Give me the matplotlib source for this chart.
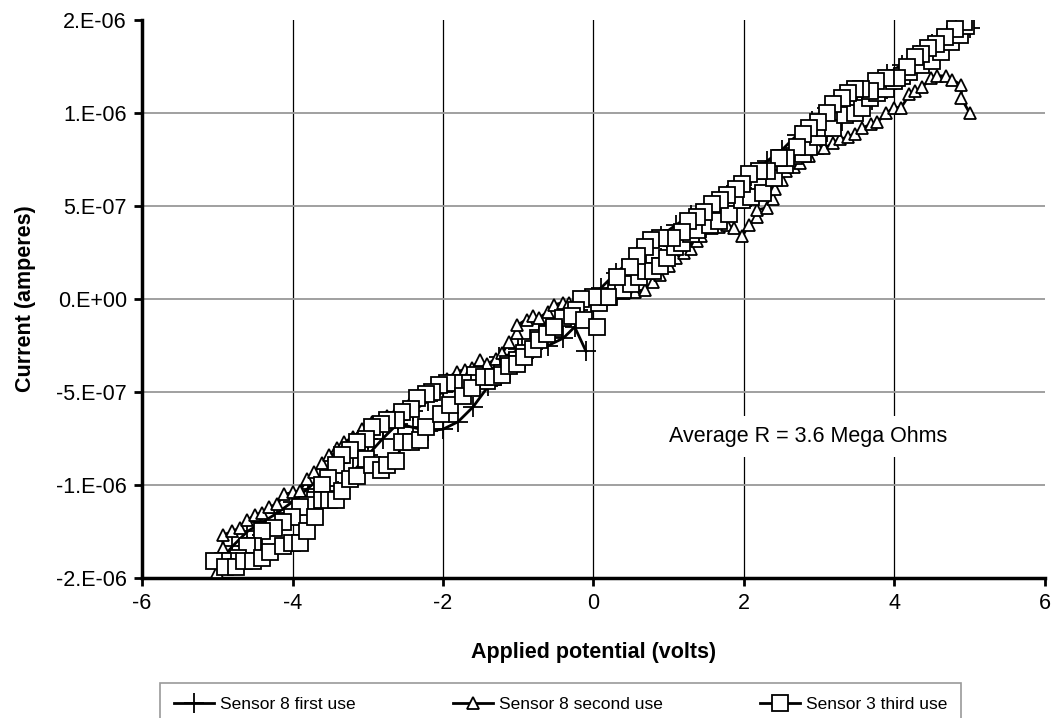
import numpy as np
import matplotlib.pyplot as plt
from matplotlib.ticker import FixedLocator, FixedFormatter

plt.rcParams['font.family'] = ['Liberation Sans', 'DejaVu Sans']
plt.rcParams['axes.unicode_minus'] = False

# Sensor 8 first use: 0 -> 5 -> -5 -> 0 (volts, microamps)
s8a_v = [0.1, 0.3, 0.5, 0.7, 0.9, 1.1, 1.3, 1.5, 1.7, 1.9, 2.1, 2.3, 2.5, 2.7, 2.9, 3.1, 3.3, 3.5, 3.7, 3.9,
         4.1, 4.3, 4.5, 4.7, 4.9, 5.0,
         4.9, 4.7, 4.5, 4.3, 4.1, 3.9, 3.7, 3.5, 3.3, 3.1, 2.9, 2.7, 2.5, 2.3, 2.1, 1.9, 1.7, 1.5, 1.3, 1.1,
         0.9, 0.7, 0.5, 0.3, 0.1,
         -0.2, -0.4, -0.6, -0.8, -1.0, -1.2, -1.4, -1.6, -1.8, -2.0, -2.2, -2.4, -2.6, -2.8, -3.0, -3.2, -3.4,
         -3.6, -3.8, -4.0, -4.2, -4.4, -4.6, -4.8, -5.0,
         -4.8, -4.6, -4.4, -4.2, -4.0, -3.8, -3.6, -3.4, -3.2, -3.0, -2.8, -2.6, -2.4, -2.2, -2.0, -1.8, -1.6,
         -1.4, -1.25, -1.0, -0.8, -0.6, -0.4, -0.25, -0.1]
s8a_i = [0.0, 0.06, 0.12, 0.17, 0.22, 0.28, 0.33, 0.38, 0.43, 0.49, 0.55, 0.60, 0.66, 0.74, 0.82, 0.90, 0.96,
         1.02, 1.07, 1.13, 1.22, 1.29, 1.35, 1.41, 1.45, 1.46,
         1.46, 1.42, 1.37, 1.31, 1.26, 1.21, 1.16, 1.12, 1.08, 1.03, 0.96, 0.88, 0.80, 0.74, 0.66, 0.61, 0.55,
         0.50, 0.45, 0.40, 0.34, 0.28, 0.21, 0.14, 0.06,
         -0.06, -0.10, -0.16, -0.22, -0.27, -0.33, -0.39, -0.43, -0.46, -0.50, -0.55, -0.60, -0.65, -0.69,
         -0.75, -0.82, -0.88, -0.95, -1.02, -1.09, -1.15, -1.20, -1.25, -1.33, -1.43,
         -1.38, -1.33, -1.27, -1.21, -1.16, -1.11, -1.07, -1.03, -0.93, -0.84, -0.75, -0.67, -0.69, -0.71,
         -0.70, -0.66, -0.58, -0.47, -0.31, -0.29, -0.27, -0.25, -0.21, -0.15, -0.28]

# Sensor 8 second use: -5 -> 5
s8b_v = [-5.0, -4.92, -4.93, -4.8, -4.7, -4.6, -4.5, -4.41, -4.31, -4.2, -4.11, -4.0, -3.9, -3.81, -3.71,
         -3.61, -3.51, -3.41, -3.31, -3.19, -3.07, -2.94, -2.75, -2.62, -2.42, -2.3, -2.15, -2.05, -1.95,
         -1.82, -1.71, -1.62, -1.51, -1.41, -1.29, -1.21, -1.12, -1.02, -1.01, -0.89, -0.81, -0.72, -0.61,
         -0.52, -0.41, -0.32, -0.2, -0.05, 0.1, 0.25, 0.4, 0.55, 0.68, 0.79, 0.88, 1.01, 1.1, 1.2, 1.3,
         1.38, 1.43, 1.57, 1.67, 1.77, 1.87, 1.98, 2.07, 2.18, 2.18, 2.3, 2.38, 2.41, 2.5, 2.56, 2.67, 2.74,
         2.87, 2.98, 3.07, 3.18, 3.28, 3.38, 3.47, 3.57, 3.69, 3.77, 3.89, 4.0, 4.09, 4.2, 4.27, 4.37, 4.49,
         4.57, 4.69, 4.77, 4.89, 4.89, 5.0]
s8b_i = [-1.47, -1.34, -1.27, -1.25, -1.23, -1.19, -1.16, -1.15, -1.12, -1.10, -1.05, -1.04, -1.03, -0.97,
         -0.93, -0.88, -0.84, -0.80, -0.77, -0.74, -0.70, -0.66, -0.63, -0.61, -0.55, -0.52, -0.49, -0.45,
         -0.43, -0.39, -0.38, -0.37, -0.33, -0.35, -0.32, -0.29, -0.23, -0.18, -0.14, -0.11, -0.09, -0.10,
         -0.07, -0.03, -0.02, -0.02, -0.01, 0.0, 0.02, 0.03, 0.03, 0.04, 0.05, 0.09, 0.13, 0.18, 0.22, 0.25,
         0.27, 0.31, 0.34, 0.38, 0.39, 0.40, 0.38, 0.34, 0.40, 0.44, 0.48, 0.49, 0.54, 0.59, 0.64, 0.69,
         0.71, 0.73, 0.77, 0.81, 0.81, 0.84, 0.86, 0.87, 0.89, 0.92, 0.94, 0.95, 1.00, 1.03, 1.03, 1.10,
         1.12, 1.14, 1.19, 1.20, 1.20, 1.18, 1.15, 1.08, 1.00]

# Sensor 3 third use: 0 -> 5 -> -5 -> 0
s3_v = [0.08, 0.2, 0.3, 0.39, 0.5, 0.6, 0.7, 0.79, 0.88, 0.98, 1.08, 1.18, 1.3, 1.38, 1.55, 1.67, 1.8,
        1.98, 2.1, 2.25, 2.4, 2.55, 2.67, 2.78, 2.87, 2.98, 3.07, 3.18, 3.34, 3.47, 3.57, 3.67, 3.77, 3.89,
        4.0, 4.1, 4.2, 4.35, 4.5, 4.62, 4.75, 4.87, 4.95,
        4.92, 4.8, 4.67, 4.55, 4.45, 4.35, 4.27, 4.17, 4.04, 3.89, 3.76, 3.67, 3.56, 3.47, 3.38, 3.3, 3.18,
        3.1, 2.98, 2.87, 2.78, 2.7, 2.56, 2.47, 2.31, 2.2, 2.07, 1.98, 1.9, 1.78, 1.68, 1.58, 1.47, 1.37,
        1.25, 1.17, 1.04, 0.88, 0.77, 0.68, 0.58, 0.48, 0.31, 0.19, 0.0,
        -0.16, -0.23, -0.41, -0.52, -0.62, -0.74, -0.85, -0.92, -1.02, -1.14, -1.21, -1.34, -1.42, -1.58,
        -1.62, -1.74, -1.85, -1.95, -2.05, -2.15, -2.22, -2.34, -2.42, -2.54, -2.62, -2.74, -2.82, -2.94,
        -3.02, -3.14, -3.24, -3.34, -3.42, -3.53, -3.61, -3.7, -3.81, -3.9, -4.01, -4.13, -4.24, -4.41,
        -4.53, -4.61, -4.73, -4.84, -4.93, -5.04,
        -4.9, -4.75, -4.64, -4.53, -4.41, -4.3, -4.13, -4.01, -3.9, -3.81, -3.7, -3.61, -3.51, -3.42, -3.34,
        -3.24, -3.14, -3.02, -2.94, -2.82, -2.74, -2.62, -2.54, -2.42, -2.31, -2.22, -2.02, -1.91, -1.74,
        -1.61, -1.45, -1.34, -1.22, -1.12, -1.02, -0.92, -0.81, -0.72, -0.62, -0.52, -0.28, -0.12, 0.05]
s3_i = [-0.02, 0.01, 0.05, 0.05, 0.08, 0.12, 0.15, 0.15, 0.18, 0.22, 0.28, 0.30, 0.35, 0.37, 0.40, 0.42,
        0.46, 0.53, 0.55, 0.57, 0.65, 0.72, 0.77, 0.78, 0.82, 0.87, 0.92, 0.92, 0.99, 1.00, 1.03, 1.08, 1.11,
        1.13, 1.17, 1.20, 1.22, 1.26, 1.28, 1.33, 1.38, 1.42, 1.47,
        1.49, 1.45, 1.41, 1.37, 1.35, 1.32, 1.30, 1.25, 1.19, 1.19, 1.17, 1.12, 1.13, 1.13, 1.11, 1.08,
        1.05, 1.00, 0.95, 0.92, 0.89, 0.82, 0.76, 0.76, 0.69, 0.69, 0.67, 0.62, 0.59, 0.56, 0.53, 0.51,
        0.47, 0.44, 0.42, 0.36, 0.33, 0.33, 0.32, 0.28, 0.23, 0.17, 0.12, 0.01, 0.01,
        0.0, -0.06, -0.10, -0.16, -0.18, -0.21, -0.26, -0.29, -0.33, -0.35, -0.40, -0.42, -0.44, -0.41,
        -0.45, -0.45, -0.45, -0.45, -0.46, -0.50, -0.51, -0.53, -0.59, -0.61, -0.65, -0.65, -0.67, -0.69,
        -0.75, -0.77, -0.81, -0.84, -0.89, -0.96, -1.00, -1.08, -1.11, -1.12, -1.17, -1.20, -1.23, -1.25,
        -1.33, -1.33, -1.39, -1.41, -1.41, -1.41,
        -1.44, -1.44, -1.41, -1.41, -1.39, -1.36, -1.33, -1.31, -1.31, -1.25, -1.17, -1.08, -1.08, -1.08,
        -1.03, -0.97, -0.95, -0.86, -0.89, -0.92, -0.89, -0.87, -0.77, -0.77, -0.76, -0.69, -0.62, -0.57,
        -0.52, -0.48, -0.42, -0.42, -0.41, -0.36, -0.35, -0.31, -0.27, -0.22, -0.19, -0.15, -0.09, -0.11,
        -0.15]

y_ticks = [-1.5e-6, -1.0e-6, -5e-7, 0.0, 5e-7, 1.0e-6, 1.5e-6]
y_labels = ["-2.E-06", "-1.E-06", "-5.E-07", "0.E+00", "5.E-07", "1.E-06", "2.E-06"]
x_ticks = [-6, -4, -2, 0, 2, 4, 6]

fig = plt.figure(figsize=(10.56, 7.18), dpi=100)
ax = fig.add_axes([0.1345, 0.195, 0.855, 0.777])

ax.plot(s8a_v, np.array(s8a_i) * 1e-6, color='black', lw=2, marker='+', ms=14, mew=1.3,
        label='Sensor 8 first use', zorder=3)
ax.plot(s8b_v, np.array(s8b_i) * 1e-6, color='black', lw=2, marker='^', ms=9, mfc='white', mec='black',
        mew=1.3, label='Sensor 8 second use', zorder=4)
ax.plot(s3_v, np.array(s3_i) * 1e-6, color='black', lw=2, marker='s', ms=11, mfc='white', mec='black',
        mew=1.3, label='Sensor 3 third use', zorder=5)

ax.set_xlim(-6, 6)
ax.set_ylim(-1.5e-6, 1.5e-6)
ax.xaxis.set_major_locator(FixedLocator(x_ticks))
ax.yaxis.set_major_locator(FixedLocator(y_ticks))
ax.yaxis.set_major_formatter(FixedFormatter(y_labels))

ax.set_axisbelow(True)
ax.yaxis.grid(True, color='#999999', lw=1.3)
ax.xaxis.grid(True, color='black', lw=0.9)
ax.get_ygridlines()[-1].set_visible(False)
ax.get_xgridlines()[-1].set_visible(False)
for s in ['top', 'right']:
    ax.spines[s].set_visible(False)
for s in ['left', 'bottom']:
    ax.spines[s].set_linewidth(2.5)
ax.tick_params(direction='out', length=6, width=2, labelsize=15.5, pad=5)

ax.set_xlabel('Applied potential (volts)', fontsize=15.5, fontweight='bold', labelpad=20)
ax.set_ylabel('Current (amperes)', fontsize=15.5, fontweight='bold', labelpad=14)

ax.text(1.0, -0.74e-6, 'Average R = 3.6 Mega Ohms', fontsize=15.5, va='center', ha='left',
        bbox=dict(facecolor='white', edgecolor='none', pad=7), zorder=6)

leg = fig.legend(loc='upper center', bbox_to_anchor=(0.531, 0.049), ncol=3, fontsize=12.5,
                 frameon=True, fancybox=False, edgecolor='#808080', handlelength=2.3,
                 columnspacing=5.6, borderpad=0.8, handletextpad=0.35, borderaxespad=0)
leg.get_frame().set_linewidth(1.2)

fig.savefig('out.png', dpi=100)
